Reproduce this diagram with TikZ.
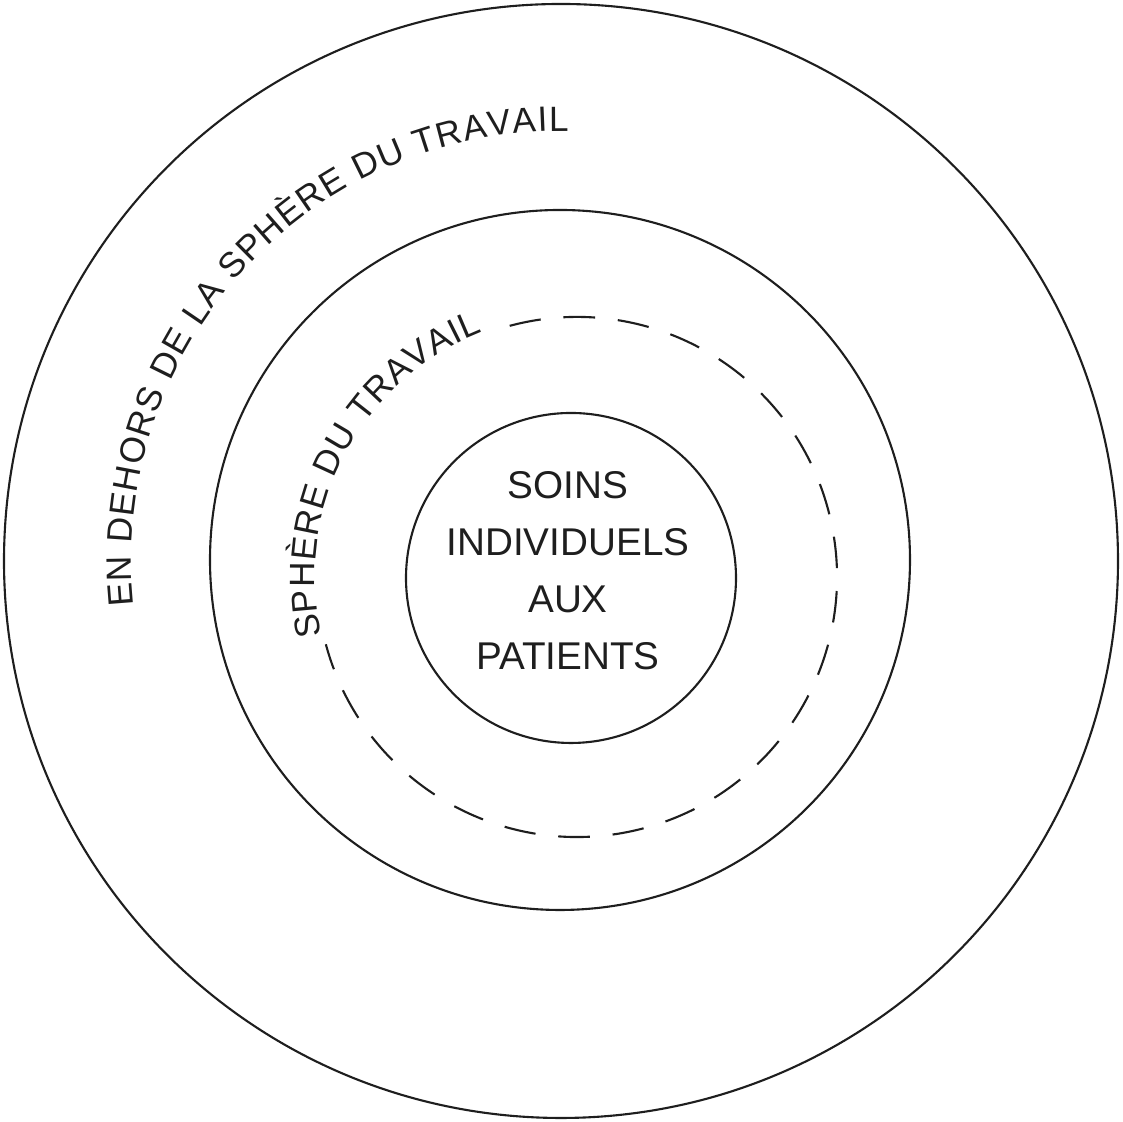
\documentclass[tikz,border=0pt]{standalone}
\usepackage{fontspec}
\usepackage{xcolor}
\usepackage{tikz}
\usetikzlibrary{decorations.text}
\newfontfamily\handfont{Liberation Sans}
\definecolor{cInk}{HTML}{1E1E1E}
\tikzset{
  ring/.style={draw=cInk,line width=0.6pt},
  dashring/.style={ring,dash pattern=on 9pt off 6.5pt},
  arclbl/.style={decorate,decoration={text along path,text align=fit to path,text={|\handfont\fontsize{10}{12}\selectfont\color{cInk}|#1}}},
  corelbl/.style={font=\handfont\fontsize{11}{16.2}\selectfont,text=cInk,align=center,inner sep=0pt},
}

\begin{document}
\begin{tikzpicture}[x=0.01cm,y=0.01cm]
    \useasboundingbox (0,0) rectangle (1123,1122);
    \coordinate (oc) at (561,561);
    \coordinate (mc) at (560,562);
    \coordinate (dc) at (577,545);
    \coordinate (ic) at (571,544);
    \draw[ring] (oc) circle[radius=557];
    \draw[ring] (mc) circle[radius=350];
    \draw[ring] (ic) circle[radius=165];
    \draw[dashring] (dc) ++(105:260) arc[start angle=105,end angle=-165,radius=260];
    \path[arclbl={EN DEHORS DE LA SPHÈRE DU TRAVAIL}] (oc) ++(186:430) arc[start angle=186,end angle=89,radius=430];
    \path[arclbl={SPHÈRE DU TRAVAIL}] (dc) ++(193:262) arc[start angle=193,end angle=111,radius=262];
    \node[corelbl] (soins) at (568,551) {SOINS\\INDIVIDUELS\\AUX\\PATIENTS};
  \end{tikzpicture}
\end{document}
